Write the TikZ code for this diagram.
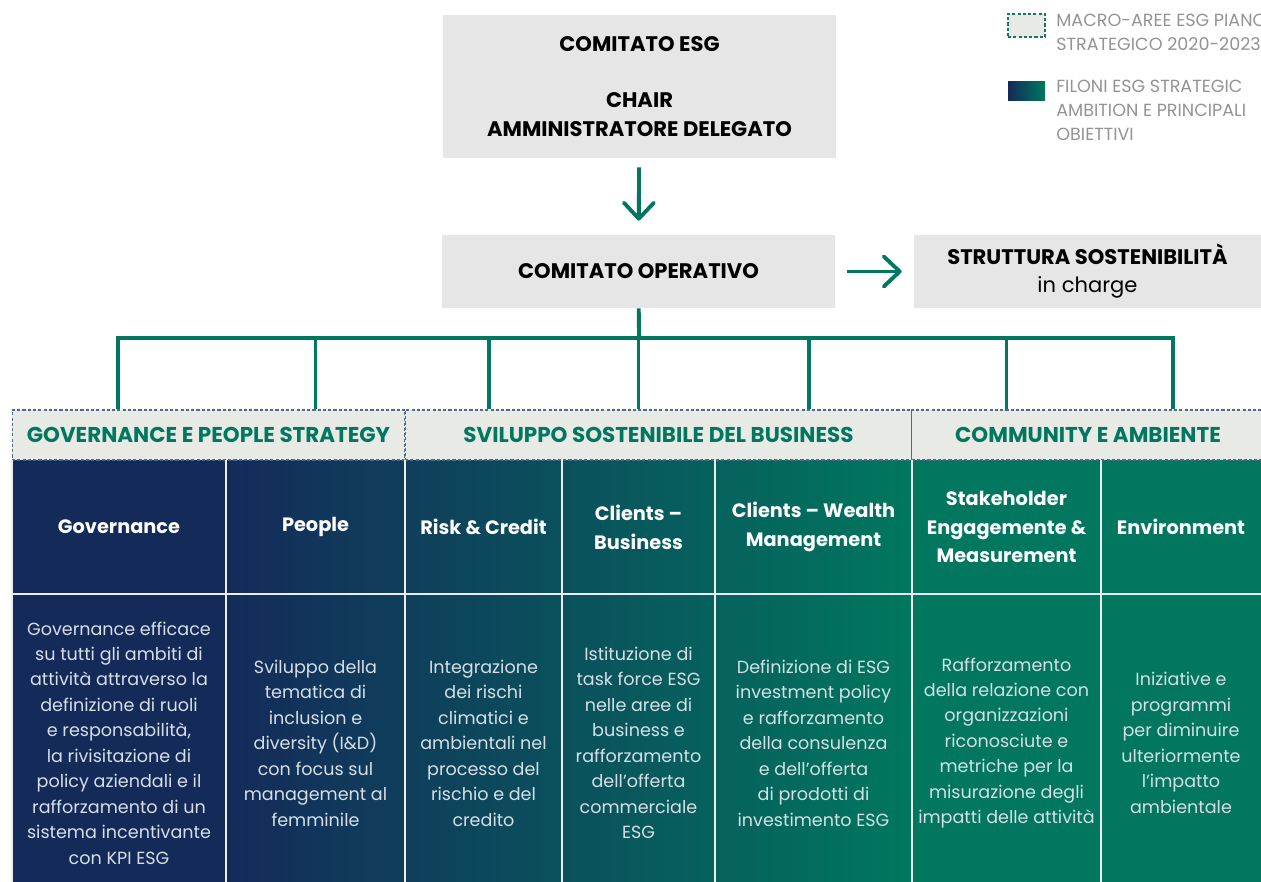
\documentclass[tikz,border=0pt]{standalone}
\usepackage{fontspec}
\setmainfont{Poppins}
\usetikzlibrary{positioning,arrows.meta}
\definecolor{esggreen}{HTML}{00775E}
\definecolor{esgnavy}{HTML}{142B5A}
\definecolor{boxgray}{HTML}{E6E6E6}
\definecolor{bandgray}{HTML}{E8EAE6}
\definecolor{dashblue}{HTML}{4F6A8A}
\definecolor{goaltext}{HTML}{D6DFE6}
\definecolor{keytext}{HTML}{939393}
\begin{document}
\begin{tikzpicture}[x=0.02cm,y=-0.02cm,
    boardbox/.style={fill=boxgray,inner sep=0pt,align=center,font=\bfseries\fontsize{12}{16}\selectfont},
    link/.style={draw=esggreen,line width=2.2pt},
    flow/.style={link,-{Straight Barb[length=3.2mm,width=6mm,round]}},
    area/.style={draw=dashblue,dash pattern=on 1.8pt off 1.2pt,line width=0.6pt,fill=bandgray,
        minimum height=1cm,inner sep=0pt,text=esggreen,font=\bfseries\fontsize{12.2}{13}\selectfont},
    pillar/.style={text=white,align=center,minimum height=2.66cm,inner sep=0pt,
        font=\bfseries\fontsize{11}{16.4}\selectfont},
    goal/.style={text=goaltext,align=center,inner sep=0pt,font=\fontsize{10}{14.5}\selectfont},
    divider/.style={draw=white!85!gray,line width=0.8pt},
    keytxt/.style={text=keytext,align=left,anchor=north west,inner sep=0pt,font=\fontsize{10}{13.5}\selectfont},
]
\useasboundingbox (0,0) rectangle (1261,882);
\clip (0,0) rectangle (1261,882);

% governance boxes
\node[boardbox,minimum width=7.86cm,minimum height=2.86cm] (esg) at (639.5,86.5)
    {COMITATO ESG\\[16pt]CHAIR\\AMMINISTRATORE DELEGATO};
\node[boardbox,minimum width=7.86cm,minimum height=1.46cm] (operativo) at (638.5,271.5)
    {COMITATO OPERATIVO};
\node[boardbox,minimum width=6.94cm,minimum height=1.46cm] (struttura) at (1087.5,271.5)
    {STRUTTURA SOSTENIBILITÀ\\{\mdseries in charge}};
\draw[flow,shorten <=0.18cm,shorten >=0.28cm] (esg) -- (operativo);
\draw[flow,shorten <=0.24cm,shorten >=0.24cm] (operativo) -- (struttura);

% column backgrounds
\fill[esgnavy] (12,460) rectangle (226,882);
\fill[left color=esgnavy,right color=esggreen] (226,460) rectangle (912,882);
\fill[esggreen] (912,460) rectangle (1261,882);

% macro areas
\node[area,minimum width=7.86cm] (gpArea) at (208.5,435) {GOVERNANCE E PEOPLE STRATEGY};
\node[area,minimum width=10.14cm] (sbArea) at (658.5,435) {SVILUPPO SOSTENIBILE DEL BUSINESS};
\node[area,minimum width=7.06cm] (caArea) at (1088,435) {COMMUNITY E AMBIENTE};

% pillars
\node[pillar,minimum width=4.28cm] (gov) at (119,527) {Governance};
\node[pillar,minimum width=3.58cm] (ppl) at (315.5,527) {People};
\node[pillar,minimum width=3.14cm] (risk) at (483.5,527) {Risk \& Credit};
\node[pillar,minimum width=3.06cm] (cbiz) at (638.5,527) {Clients --\\Business};
\node[pillar,minimum width=3.94cm] (cwm) at (813.5,527) {Clients -- Wealth\\Management};
\node[pillar,minimum width=3.78cm] (stake) at (1006.5,527) {Stakeholder\\Engagemente \&\\Measurement};
\node[pillar,minimum width=3.2cm] (env) at (1181,527) {Environment};

\node[goal] (govTxt) at (119,743) {Governance efficace\\su tutti gli ambiti di\\attività attraverso la\\definizione di ruoli\\e responsabilità,\\la rivisitazione di\\policy aziendali e il\\rafforzamento di un\\sistema incentivante\\con KPI ESG};
\node[goal] (pplTxt) at (315.5,743) {Sviluppo della\\tematica di\\inclusion e\\diversity (I\&D)\\con focus sul\\management al\\femminile};
\node[goal] (riskTxt) at (483.5,743) {Integrazione\\dei rischi\\climatici e\\ambientali nel\\processo del\\rischio e del\\credito};
\node[goal] (cbizTxt) at (638.5,743) {Istituzione di\\task force ESG\\nelle aree di\\business e\\rafforzamento\\dell’offerta\\commerciale\\ESG};
\node[goal] (cwmTxt) at (813.5,743) {Definizione di ESG\\investment policy\\e rafforzamento\\della consulenza\\e dell’offerta\\di prodotti di\\investimento ESG};
\node[goal] (stakeTxt) at (1006.5,743) {Rafforzamento\\della relazione con\\organizzazioni\\riconosciute e\\metriche per la\\misurazione degli\\impatti delle attività};
\node[goal] (envTxt) at (1181,743) {Iniziative e\\programmi\\per diminuire\\ulteriormente\\l’impatto\\ambientale};

% grid lines
\foreach \cx in {12,226,405,562,715,912,1101}
    \draw[divider] (\cx,460) -- (\cx,882);
\draw[divider] (gov.south west) -- (env.south east);

% tree
\coordinate (hub) at (639,338);
\draw[link] (operativo) -- (hub);
\draw[link] ([xshift=-0.02cm]gov |- gpArea.north) -- ([xshift=-0.02cm]hub -| gov)
    -- ([xshift=-0.16cm]hub -| env) -- ([xshift=-0.16cm]env |- caArea.north);
\foreach \col/\band/\dx in {ppl/gpArea/0,risk/sbArea/0.11,cbiz/sbArea/0,cwm/sbArea/-0.09,stake/caArea/0}
    \draw[link] ([xshift=\dx cm]hub -| \col) -- ([xshift=\dx cm]\col |- \band.north);

% legend
\node[draw=esggreen!70!dashblue,dash pattern=on 1.8pt off 1.2pt,line width=0.6pt,fill=bandgray,
    minimum width=0.74cm,minimum height=0.46cm,inner sep=0pt] (keyArea) at (1026.5,25.5) {};
\node[keytxt] (keyAreaTxt) at (1056,14) {MACRO-AREE ESG PIANO\\STRATEGICO 2020-2023};
\node[left color=esgnavy,right color=esggreen,minimum width=0.74cm,minimum height=0.4cm,
    inner sep=0pt] (keyPillar) at (1026.5,91) {};
\node[keytxt] (keyPillarTxt) at (1056,80) {FILONI ESG STRATEGIC\\AMBITION E PRINCIPALI\\OBIETTIVI};
\end{tikzpicture}
\end{document}
